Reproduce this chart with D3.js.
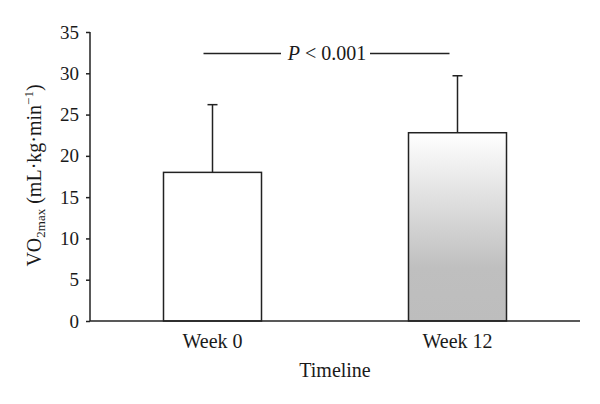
<!DOCTYPE html>
<html><head><meta charset="utf-8">
<script src="https://cdn.jsdelivr.net/npm/d3@7"></script>
<style>body{margin:0;background:#fff;} svg{display:block;} text{font-family:"Liberation Serif","Times New Roman",serif;fill:#1a1a1a;}</style>
</head><body>
<svg id="c" width="600" height="404"></svg>
<script>
const categories = ["Week 0", "Week 12"];
const means = [18.0, 22.8];
const errorTops = [26.2, 29.7];
const yTicks = [0, 5, 10, 15, 20, 25, 30, 35];
const significance = "P < 0.001";

(function () {
const svg = d3.select("#c");
const mLeft = 90, mRight = 580, mTop = 32, mBottom = 321;
const x = d3.scaleBand().domain(categories).range([mLeft, mRight]).paddingInner(0.6).paddingOuter(0.3);
const y = d3.scaleLinear().domain([0, 35]).range([mBottom, mTop]);

const defs = svg.append("defs");
const g1 = defs.append("linearGradient").attr("id", "grad").attr("x1", 0).attr("y1", 0).attr("x2", 0).attr("y2", 1);
g1.append("stop").attr("offset", "0%").attr("stop-color", "#ffffff");
g1.append("stop").attr("offset", "72%").attr("stop-color", "#bfbfbf");
g1.append("stop").attr("offset", "100%").attr("stop-color", "#bdbdbd");

const stroke = "#222";
const eb = svg.append("g");
categories.forEach((c, i) => {
  const cx = x(c) + x.bandwidth() / 2;
  eb.append("line").attr("x1", cx).attr("x2", cx).attr("y1", y(means[i])).attr("y2", y(errorTops[i]))
    .attr("stroke", stroke).attr("stroke-width", 1.5);
  eb.append("line").attr("x1", cx - 5).attr("x2", cx + 5).attr("y1", y(errorTops[i])).attr("y2", y(errorTops[i]))
    .attr("stroke", stroke).attr("stroke-width", 1.5);
});
svg.append("g").selectAll("rect").data(categories).join("rect")
  .attr("x", d => x(d)).attr("width", x.bandwidth())
  .attr("y", (d, i) => y(means[i])).attr("height", (d, i) => y(0) - y(means[i]))
  .attr("fill", (d, i) => i === 0 ? "#ffffff" : "url(#grad)")
  .attr("stroke", stroke).attr("stroke-width", 1.5);

const yAxis = svg.append("g").attr("transform", `translate(${mLeft},0)`)
  .call(d3.axisLeft(y).tickValues(yTicks).tickSize(4).tickPadding(7));
const xAxis = svg.append("g").attr("transform", `translate(0,${mBottom})`)
  .call(d3.axisBottom(x).tickSize(0).tickPadding(13));
[yAxis, xAxis].forEach(a => {
  a.select(".domain").attr("stroke", stroke).attr("stroke-width", 1.5);
  a.selectAll(".tick line").attr("stroke", stroke).attr("stroke-width", 1.5);
  a.selectAll("text").attr("font-family", "Liberation Serif").attr("fill", "#1a1a1a");
});
yAxis.selectAll("text").attr("font-size", 19);
xAxis.selectAll("text").attr("font-size", 20);
yAxis.select(".domain").attr("d", `M0,${mBottom}V${mTop}`);
xAxis.select(".domain").attr("d", `M${mLeft},0H${mRight}`);

svg.append("text").attr("x", (mLeft + mRight) / 2).attr("y", 377).attr("text-anchor", "middle")
  .attr("font-size", 20).text("Timeline");
const yl = svg.append("text").attr("transform", `translate(41,${(mTop + mBottom) / 2 - 1}) rotate(-90)`)
  .attr("text-anchor", "middle").attr("font-size", 20);
yl.append("tspan").text("VO");
yl.append("tspan").attr("font-size", 13).attr("dy", 4).text("2max");
yl.append("tspan").attr("dy", -4).text(" (mL·kg·min");
yl.append("tspan").attr("font-size", 13).attr("dy", -8).text("−1");
yl.append("tspan").attr("dy", 8).text(")");

const c0 = x(categories[0]) + x.bandwidth() / 2 - 9, c1 = x(categories[1]) + x.bandwidth() / 2 - 9;
const sy = 53.5;
const st = svg.append("text").attr("x", (c0 + c1) / 2 + 1).attr("y", 60).attr("text-anchor", "middle").attr("font-size", 20);
st.append("tspan").attr("font-style", "italic").text("P");
st.append("tspan").text(significance.slice(1));
svg.append("line").attr("x1", c0).attr("x2", 281).attr("y1", sy).attr("y2", sy).attr("stroke", stroke).attr("stroke-width", 1.5);
svg.append("line").attr("x1", 370).attr("x2", c1 + 1).attr("y1", sy).attr("y2", sy).attr("stroke", stroke).attr("stroke-width", 1.5);
})();
</script>
</body></html>
